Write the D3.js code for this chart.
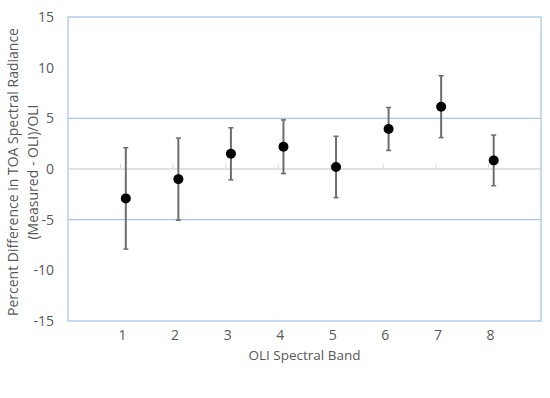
<!DOCTYPE html>
<html>
<head>
<meta charset="utf-8">
<script src="https://cdn.jsdelivr.net/npm/d3@7"></script>
<style>
  body { margin: 0; background: #fff; }
  text { font-family: "Open Sans", sans-serif; fill: #595959; }
</style>
</head>
<body>
<svg id="chart" width="550" height="398"></svg>
<script>
// OLI spectral bands and measured differences (percent)
var bands = [1, 2, 3, 4, 5, 6, 7, 8];
var meanDiff = [-2.9, -1.0, 1.5, 2.2, 0.2, 3.95, 6.15, 0.85];
var errDiff = [5.0, 4.05, 2.57, 2.65, 3.03, 2.12, 3.05, 2.5];
var yTicks = [-15, -10, -5, 0, 5, 10, 15];
var blueLines = [-5, 5];
var pointShift = 0.1; // markers sit slightly right of the category

var svg = d3.select("#chart");
var m = {left: 68, right: 9, top: 17, bottom: 77};
var W = 550, H = 398;

var x = d3.scaleLinear().domain([0, 9]).range([m.left, W - m.right]);
var y = d3.scaleLinear().domain([-15, 15]).range([H - m.bottom, m.top]);

// blue gridlines
svg.selectAll(".grid").data(blueLines).enter().append("line")
  .attr("x1", x(0)).attr("x2", x(9))
  .attr("y1", function(d){ return y(d); }).attr("y2", function(d){ return y(d); })
  .attr("stroke", "#a9c8e8").attr("stroke-width", 1.3);

// zero axis line with small ticks
svg.append("line")
  .attr("x1", x(0)).attr("x2", x(9)).attr("y1", y(0)).attr("y2", y(0))
  .attr("stroke", "#d9d9d9").attr("stroke-width", 1.3);
svg.selectAll(".ztick").data(bands).enter().append("line")
  .attr("x1", function(d){ return x(d); }).attr("x2", function(d){ return x(d); })
  .attr("y1", y(0)).attr("y2", y(0) - 5)
  .attr("stroke", "#d9d9d9").attr("stroke-width", 1);

// plot border
svg.append("rect")
  .attr("x", x(0)).attr("y", y(15))
  .attr("width", x(9) - x(0)).attr("height", y(-15) - y(15))
  .attr("fill", "none").attr("stroke", "#a9c8e8").attr("stroke-width", 1.3);

// y tick labels
svg.selectAll(".ylab").data(yTicks).enter().append("text")
  .attr("x", m.left - 14).attr("y", function(d){ return y(d); })
  .attr("dy", "0.35em").attr("text-anchor", "end")
  .style("font-size", "14px")
  .text(function(d){ return d; });

// x tick labels
svg.selectAll(".xlab").data(bands).enter().append("text")
  .attr("x", function(d){ return x(d) + 2; }).attr("y", y(-15) + 14)
  .attr("dy", "0.35em").attr("text-anchor", "middle")
  .style("font-size", "14px")
  .text(function(d){ return d; });

// axis titles
svg.append("text")
  .attr("x", (x(0) + x(9)) / 2).attr("y", 355)
  .attr("dy", "0.35em").attr("text-anchor", "middle")
  .style("font-size", "13.5px")
  .text("OLI Spectral Band");

var yt = svg.append("text")
  .attr("transform", "translate(13,172) rotate(-90)")
  .attr("text-anchor", "middle")
  .style("font-size", "14px");
yt.append("tspan").attr("x", 0).attr("dy", "0.35em").text("Percent Difference in TOA Spectral Radiance");
yt.append("tspan").attr("x", 0).attr("dy", "1.4em").text("(Measured - OLI)/OLI");

// error bars
var eb = svg.selectAll(".eb").data(bands).enter().append("g");
eb.append("line")
  .attr("x1", function(d){ return x(d + pointShift); })
  .attr("x2", function(d){ return x(d + pointShift); })
  .attr("y1", function(d, i){ return y(meanDiff[i] + errDiff[i]); })
  .attr("y2", function(d, i){ return y(meanDiff[i] - errDiff[i]); })
  .attr("stroke", "#6d6d6d").attr("stroke-width", 2);
[1, -1].forEach(function(s) {
  eb.append("line")
    .attr("x1", function(d){ return x(d + pointShift) - 2.5; })
    .attr("x2", function(d){ return x(d + pointShift) + 2.5; })
    .attr("y1", function(d, i){ return y(meanDiff[i] + s * errDiff[i]); })
    .attr("y2", function(d, i){ return y(meanDiff[i] + s * errDiff[i]); })
    .attr("stroke", "#6d6d6d").attr("stroke-width", 1.5);
});

// markers
svg.selectAll(".pt").data(bands).enter().append("circle")
  .attr("cx", function(d){ return x(d + pointShift); })
  .attr("cy", function(d, i){ return y(meanDiff[i]); })
  .attr("r", 5).attr("fill", "#000");
</script>
</body>
</html>
